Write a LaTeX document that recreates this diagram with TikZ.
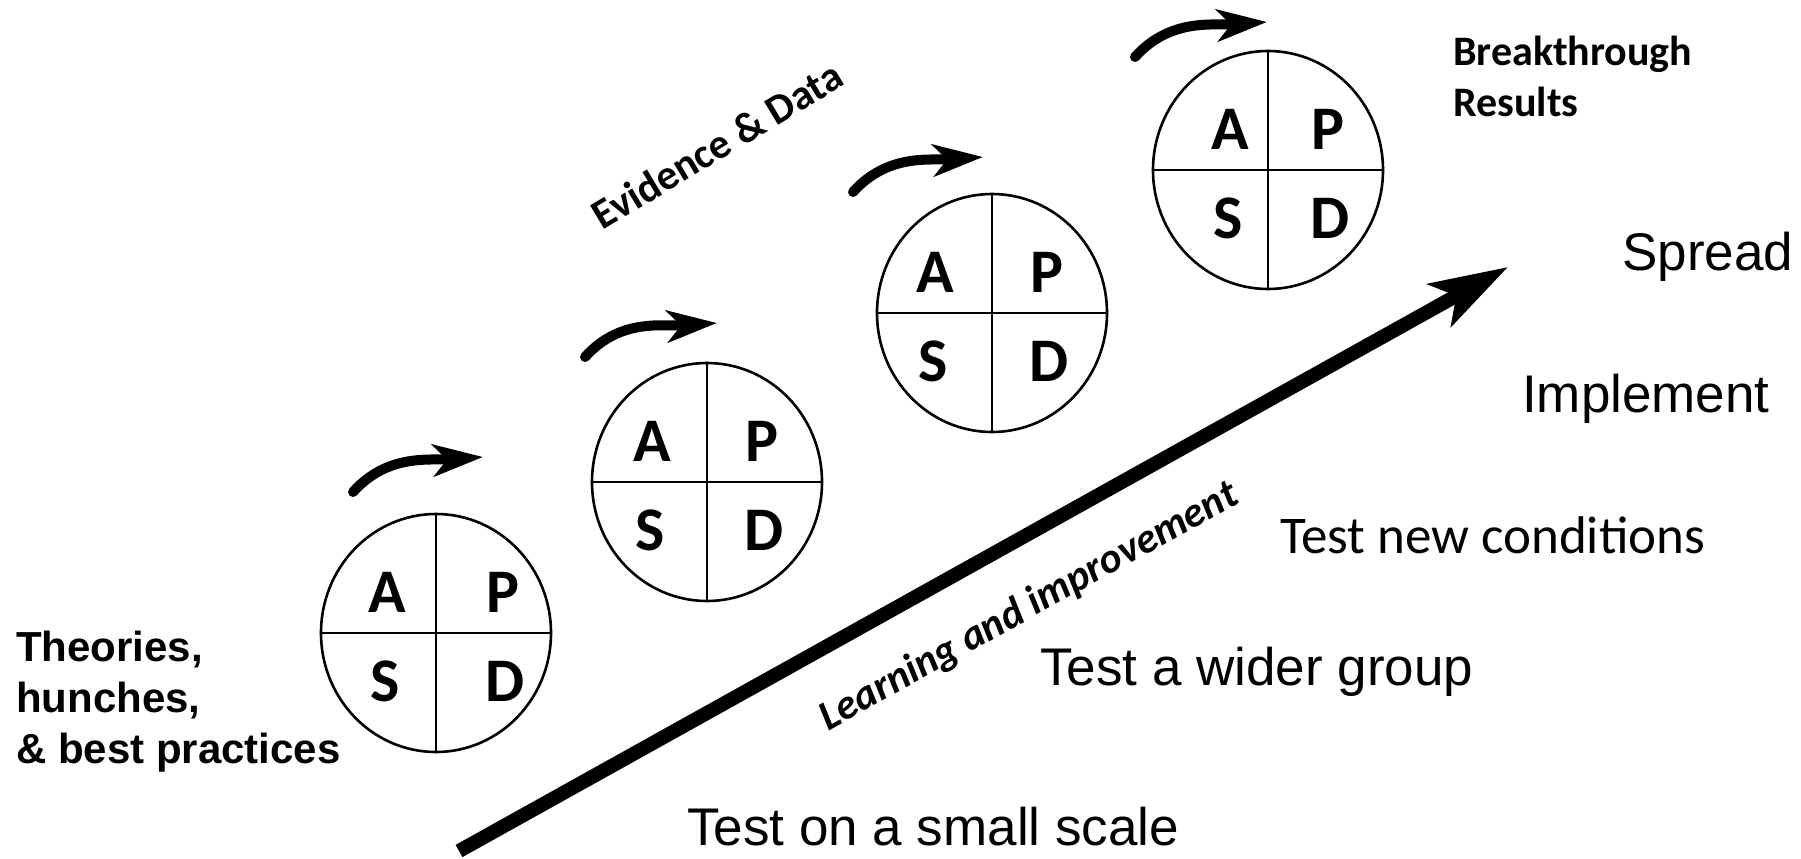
\documentclass[tikz,border=0pt]{standalone}
\usepackage{fontspec}
\setmainfont{Liberation Sans}
\newfontfamily\calibri{Carlito}
\usepackage{tikz}
\usetikzlibrary{calc,arrows.meta,shapes.geometric}
\definecolor{ink}{HTML}{000000}
\definecolor{paper}{HTML}{FFFFFF}
\tikzset{
  pdsa/.style={draw=ink, ellipse, line width=2.6pt, minimum width=230pt, minimum height=238pt, inner sep=0pt},
  split/.style={draw=ink, line width=2.4pt},
  letter/.style={font=\calibri\bfseries\fontsize{62}{62}\selectfont, text=ink, inner sep=0pt},
  turn/.style={draw=ink, line width=10pt, line cap=round, -{Stealth[length=50pt,width=32pt,inset=14pt]}},
  growth/.style={draw=ink, line width=14pt, -{Stealth[length=78pt,width=48pt,inset=19pt]}},
  stage/.style={font=\fontsize{53}{60}\selectfont, text=ink, inner sep=0pt, anchor=base west},
  stagec/.style={font=\calibri\fontsize{53}{60}\selectfont, text=ink, inner sep=0pt, anchor=base west},
  note/.style={font=\calibri\bfseries\fontsize{42}{51}\selectfont, text=ink, inner sep=0pt},
  slant/.style={font=\calibri\bfseries\itshape\fontsize{42}{51}\selectfont, text=ink, inner sep=0pt},
  source/.style={font=\bfseries\fontsize{42}{51}\selectfont, text=ink, inner sep=0pt, align=left, anchor=base west}
}

\begin{document}
\begin{tikzpicture}[x=1pt,y=1pt]
  \path[use as bounding box, fill=paper] (0,0) rectangle (1801,-859);

  \foreach \i/\x/\y/\l/\r/\tx/\ty/\hx/\hy in {1/436/633/-49/67/353/492/483/457,2/707/482/-55/55/585/357/717/323,3/992/313/-57/55/853/192/983/157,4/1268/170/-38/60/1135/57/1267/22}{
    \node[pdsa] (c\i) at (\x,-\y) {};
    \draw[split] (c\i.north) -- (c\i.south);
    \draw[split] (c\i.west) -- (c\i.east);
    \node[letter] (a\i) at ($(c\i)+(\l,41)$) {A};
    \node[letter] (p\i) at ($(c\i)+(\r,41)$) {P};
    \node[letter] (s\i) at ($(c\i)+(\l-2,-48)$) {S};
    \node[letter] (d\i) at ($(c\i)+(\r+2,-48)$) {D};
    \coordinate (t\i) at (\tx,-\ty);
    \coordinate (h\i) at (\hx,-\hy);
    \draw[turn] (t\i) to[out=48,in=184] (h\i);
  }

  \node[source] (theory) at (16,-763) {Theories,\\hunches,\\\& best practices};
  \node[note, rotate=31] (evidence) at (717,-145) {Evidence \& Data};
  \node[note, align=left, anchor=base west] (results) at (1453,-116) {Breakthrough\\Results};

  \coordinate (base) at (459,-851);
  \coordinate (top) at (1508,-267);
  \draw[growth] (base) -- (top);
  \node[slant, rotate=29] (learn) at (1029,-607) {Learning and improvement};

  \node[stage] (small) at (687,-845) {Test on a small scale};
  \node[stage] (wider) at (1040,-685) {Test a wider group};
  \node[stagec] (newcond) at (1280,-553) {Test new conditions};
  \node[stage] (impl) at (1522,-412) {Implement};
  \node[stage] (spread) at (1622,-270) {Spread};
\end{tikzpicture}
\end{document}
